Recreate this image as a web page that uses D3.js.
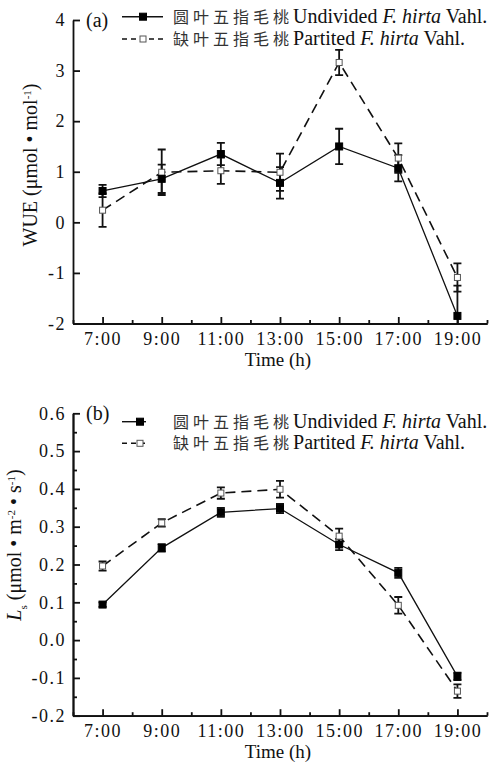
<!DOCTYPE html>
<html lang="zh">
<head>
<meta charset="UTF-8" />
<title>WUE and Ls</title>
<script src="https://d3js.org/d3.v7.min.js"></script>
<style>
  body { margin: 0; background: #fff; }
  svg { display: block; }
  text { font-family: "Liberation Serif", "DejaVu Serif", serif; fill: #111; }
  .tick text { font-size: 18px; letter-spacing: 1.5px; }
  .axis path, .axis line { stroke: #111; stroke-width: 1.8px; }
  .cjk { font-family: "Noto Sans CJK SC", sans-serif; font-size: 16px; letter-spacing: 4px; fill: #333; }
</style>
</head>
<body>
<script>
const hours = [7, 9, 11, 13, 15, 17, 19];
const hourTicks = [7, 9, 11, 13, 15, 17, 19];
const hourMinor = [6, 8, 10, 12, 14, 16, 18, 20];

// (a) WUE
const wueUndiv = [0.62, 0.86, 1.35, 0.78, 1.50, 1.07, -1.85];
const wueUndivErr = [0.12, 0.28, 0.22, 0.31, 0.35, 0.26, 0.6];
const wuePart = [0.24, 0.99, 1.02, 0.99, 3.16, 1.27, -1.09];
const wuePartErr = [0.33, 0.45, 0.26, 0.37, 0.25, 0.29, 0.28];
const wueTicks = [-2, -1, 0, 1, 2, 3, 4];

// (b) Ls
const lsUndiv = [0.094, 0.244, 0.338, 0.348, 0.253, 0.178, -0.096];
const lsUndivErr = [0.006, 0.01, 0.012, 0.012, 0.015, 0.013, 0.01];
const lsPart = [0.196, 0.31, 0.389, 0.399, 0.275, 0.092, -0.135];
const lsPartErr = [0.012, 0.01, 0.015, 0.022, 0.02, 0.022, 0.018];
const lsTicks = [-0.2, -0.1, 0.0, 0.1, 0.2, 0.3, 0.4, 0.5, 0.6];
const lsMinor = [-0.15, -0.05, 0.05, 0.15, 0.25, 0.35, 0.45, 0.55];

const legendCn = ["圆叶五指毛桃", "缺叶五指毛桃"];
const legendEn = ["Undivided", "Partited"];

const svg = d3.select("body").append("svg").attr("width", 498).attr("height", 763);

const x = d3.scaleLinear().domain([6, 20]).range([73, 487]);
const hyphen = f => d => f(d).replace("\u2212", "-");

function panel(cfg) {
  const y = d3.scaleLinear().domain(cfg.domain).range([cfg.bottom, cfg.top]);
  const g = svg.append("g");

  // minor ticks
  g.append("g").attr("class", "axis").attr("transform", `translate(0,${cfg.bottom})`)
    .call(d3.axisBottom(x).tickValues(hourMinor).tickSize(-3.5).tickSizeOuter(0).tickFormat(""));
  if (cfg.minor) {
    g.append("g").attr("class", "axis").attr("transform", "translate(73,0)")
      .call(d3.axisLeft(y).tickValues(cfg.minor).tickSize(-4).tickSizeOuter(0).tickFormat(""));
  }
  const xa = g.append("g").attr("class", "axis").attr("transform", `translate(0,${cfg.bottom})`)
    .call(d3.axisBottom(x).tickValues(hourTicks).tickSize(-6.5).tickSizeOuter(0).tickFormat(d => d + ":00"));
  xa.selectAll(".tick text").attr("y", 9).attr("dy", "0.71em");
  const ya = g.append("g").attr("class", "axis").attr("transform", "translate(73,0)")
    .call(d3.axisLeft(y).tickValues(cfg.ticks).tickSize(-7).tickSizeOuter(0).tickFormat(hyphen(cfg.fmt)));
  ya.selectAll(".tick text").attr("x", -7);
  g.selectAll(".axis .domain").attr("stroke-width", 2);

  g.append("text").attr("x", 278).attr("y", cfg.bottom + 42)
    .attr("text-anchor", "middle").style("font-size", "19px").text("Time (h)");

  const yl = g.append("text")
    .attr("transform", `translate(${cfg.ylabX},${cfg.ylabY}) rotate(-90)`)
    .attr("text-anchor", "middle").style("font-size", "20px");
  cfg.ylabel(yl);

  g.append("text").attr("x", 86).attr("y", cfg.top + 7).style("font-size", "20px").text(cfg.tag);

  const clipId = "clip" + cfg.tag.replace(/\W/g, "");
  g.append("clipPath").attr("id", clipId).append("rect")
    .attr("x", 73).attr("y", cfg.top - 10).attr("width", 420).attr("height", cfg.bottom - cfg.top + 10);
  const plot = g.append("g").attr("clip-path", `url(#${clipId})`);

  const series = [
    { v: cfg.part, e: cfg.partErr, open: true },
    { v: cfg.undiv, e: cfg.undivErr, open: false }
  ];
  const line = d3.line().x(d => x(d[0])).y(d => y(d[1]));
  series.forEach(s => {
    plot.append("path").datum(hours.map((h, i) => [h, s.v[i]]))
      .attr("d", line).attr("fill", "none").attr("stroke", "#111")
      .attr("stroke-width", s.open ? 1.6 : 1.3)
      .attr("stroke-dasharray", s.open ? "10,6" : null);
  });
  series.forEach(s => {
    const eb = plot.append("g").attr("stroke", "#111").attr("stroke-width", 1.8);
    hours.forEach((h, i) => {
      const cx = x(h), y0 = y(s.v[i] - s.e[i]), y1 = y(s.v[i] + s.e[i]);
      eb.append("line").attr("x1", cx).attr("x2", cx).attr("y1", y0).attr("y2", y1);
      eb.append("line").attr("x1", cx - 4).attr("x2", cx + 4).attr("y1", y0).attr("y2", y0);
      eb.append("line").attr("x1", cx - 4).attr("x2", cx + 4).attr("y1", y1).attr("y2", y1);
    });
  });
  series.forEach(s => {
    plot.append("g").selectAll("rect").data(hours).join("rect")
      .attr("x", (h) => x(h) - (s.open ? 3 : 3.5))
      .attr("y", (h, i) => y(s.v[i]) - (s.open ? 3 : 3.5))
      .attr("width", s.open ? 6 : 7).attr("height", s.open ? 6 : 7)
      .attr("fill", s.open ? "#fff" : "#000")
      .attr("stroke", s.open ? "#555" : "#000").attr("stroke-width", 1);
  });

  // legend
  const lg = g.append("g");
  [0, 1].forEach(k => {
    const ly = cfg.legY[k];
    const open = k === 1;
    lg.append("line").attr("x1", 122).attr("x2", cfg.legEnd).attr("y1", ly).attr("y2", ly)
      .attr("stroke", "#111").attr("stroke-width", open ? 1.6 : 1.4)
      .attr("stroke-dasharray", open ? "5,4" : null);
    const mx = cfg.legMark;
    lg.append("rect").attr("x", mx - (open ? 3 : 3.5)).attr("y", ly - (open ? 3 : 3.5))
      .attr("width", open ? 6 : 7).attr("height", open ? 6 : 7)
      .attr("fill", open ? "#fff" : "#000").attr("stroke", open ? "#555" : "#000");
    const t = lg.append("text").attr("x", 173).attr("y", ly + 6).style("font-size", "20px");
    t.append("tspan").attr("class", "cjk").text(legendCn[k]);
    t.append("tspan").text(legendEn[k] + " ");
    t.append("tspan").style("font-style", "italic").text("F. hirta");
    t.append("tspan").text(" Vahl.");
  });
}

panel({
  top: 20, bottom: 323.5, domain: [-2, 4], ticks: wueTicks, fmt: d3.format("d"),
  undiv: wueUndiv, undivErr: wueUndivErr, part: wuePart, partErr: wuePartErr,
  tag: "(a)", legY: [16.7, 39], legEnd: 163, legMark: 143, ylabX: 37, ylabY: 165,
  ylabel: t => {
    t.append("tspan").text("WUE (μmol • mol");
    t.append("tspan").attr("baseline-shift", "super").style("font-size", "11px").text("-1");
    t.append("tspan").text(")");
  }
});

panel({
  top: 413.3, bottom: 715.7, domain: [-0.2, 0.6], ticks: lsTicks, minor: lsMinor, fmt: d3.format(".1f"),
  undiv: lsUndiv, undivErr: lsUndivErr, part: lsPart, partErr: lsPartErr,
  tag: "(b)", legY: [421.7, 443.3], legEnd: 146, legMark: 140, ylabX: 21, ylabY: 545,
  ylabel: t => {
    t.append("tspan").style("font-style", "italic").text("L");
    t.append("tspan").attr("baseline-shift", "sub").style("font-size", "11px").text("s");
    t.append("tspan").text(" (μmol • m");
    t.append("tspan").attr("baseline-shift", "super").style("font-size", "11px").text("-2");
    t.append("tspan").text(" • s");
    t.append("tspan").attr("baseline-shift", "super").style("font-size", "11px").text("-1");
    t.append("tspan").text(")");
  }
});
</script>
</body>
</html>
